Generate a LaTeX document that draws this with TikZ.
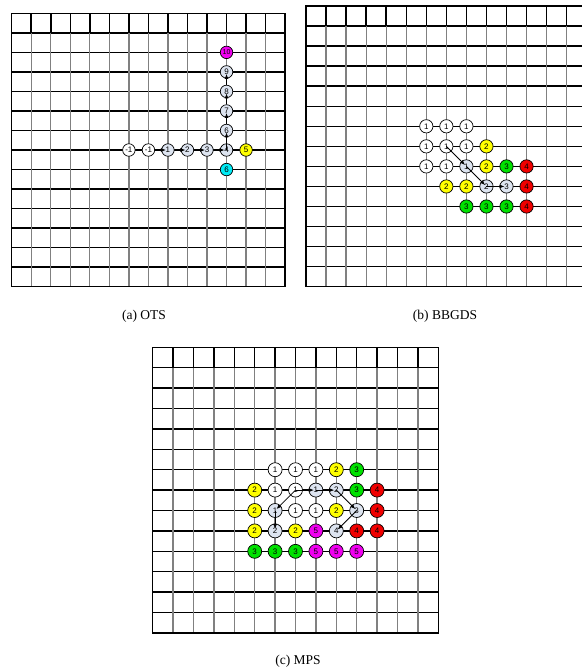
\documentclass[tikz,border=0pt]{standalone}
\usepackage{fontspec}
\setmainfont{Liberation Serif}
\setsansfont{Liberation Sans}
\usepackage{xcolor}
\usepackage{tikz}
\usetikzlibrary{arrows.meta}

\definecolor{visited}{RGB}{221,228,240}
\definecolor{ptyellow}{RGB}{255,255,0}
\definecolor{ptgreen}{RGB}{0,225,0}
\definecolor{ptred}{RGB}{240,0,0}
\definecolor{ptmagenta}{RGB}{240,0,240}
\definecolor{ptcyan}{RGB}{0,235,245}

\begin{document}
\begin{tikzpicture}[
    x=1pt, y=-1pt,
    >={Latex[length=5pt,width=4pt]},
    hline/.style={line width=1.5pt, black},
    vline/.style={line width=1.3pt, black!50},
    topline/.style={line width=1.5pt, black},
    dot/.style={circle, draw, line width=0.7pt, fill=white, inner sep=0pt, minimum size=12.5pt, font=\sffamily\fontsize{8}{9}\selectfont},
    seen/.style={dot, fill=visited},
    ydot/.style={dot, fill=ptyellow},
    gdot/.style={dot, fill=ptgreen},
    rdot/.style={dot, fill=ptred},
    mdot/.style={dot, fill=ptmagenta},
    cdot/.style={dot, fill=ptcyan},
    arr/.style={->, line width=0.8pt, shorten >=2pt},
    caption/.style={font=\fontsize{13.5}{15}\selectfont},
]
\useasboundingbox (0,0) rectangle (581,672);

% === (a) OTS ===
\begin{scope}[shift={(11.7,13.3)}, x=19.53pt, y=-19.53pt]
  \foreach \i in {0,...,14} \draw[hline] (0,\i) -- (14,\i);
  \foreach \i in {1,...,13} {
    \draw[vline] (\i,1) -- (\i,14);
    \draw[topline] (\i,0) -- (\i,1);
  }
  \draw[hline] (0,0) rectangle (14,14);

  \foreach \c/\r/\t in {6/7/-1, 7/7/-1}
    \node[dot] (a-\c-\r) at (\c,\r) {\t};
  \foreach \c/\r/\t in {8/7/1, 9/7/2, 10/7/3, 11/7/4, 11/6/6, 11/5/7, 11/4/8, 11/3/9}
    \node[seen] (a-\c-\r) at (\c,\r) {\t};
  \node[ydot] (a-12-7) at (12,7) {5};
  \node[cdot] (a-11-8) at (11,8) {6};
  \node[mdot, font=\sffamily\fontsize{7}{8}\selectfont] (a-11-2) at (11,2) {10};

  \draw[arr] (a-7-7) -- (a-8-7.center);
  \draw[arr] (a-8-7) -- (a-9-7.center);
  \draw[arr] (a-9-7) -- (a-10-7.center);
  \draw[arr] (a-10-7) -- (a-11-7.center);
  \draw[arr] (a-11-7.center) -- (a-11-6.center);
  \draw[arr] (a-11-6) -- (a-11-5.center);
  \draw[arr] (a-11-5) -- (a-11-4.center);
  \draw[arr] (a-11-4) -- (a-11-3.center);
\end{scope}
\node[caption] (capa) at (144,316) {(a) OTS};

% === (b) BBGDS ===
\begin{scope}[shift={(306,6)}, x=20.05pt, y=-20.05pt, dot/.append style={minimum size=13.3pt}]
  \foreach \i in {0,...,14} \draw[hline] (0,\i) -- (14,\i);
  \foreach \i in {1,...,13} {
    \draw[vline] (\i,1) -- (\i,14);
    \draw[topline] (\i,0) -- (\i,1);
  }
  \draw[hline] (0,0) rectangle (14,14);

  \foreach \c/\r in {6/6, 7/6, 8/6, 6/7, 7/7, 8/7, 6/8, 7/8}
    \node[dot] (b-\c-\r) at (\c,\r) {1};
  \foreach \c/\r/\t in {8/8/1, 9/9/2, 10/9/3}
    \node[seen] (b-\c-\r) at (\c,\r) {\t};
  \foreach \c/\r in {9/7, 9/8, 7/9, 8/9}
    \node[ydot] (b-\c-\r) at (\c,\r) {2};
  \foreach \c/\r in {10/8, 8/10, 9/10, 10/10}
    \node[gdot] (b-\c-\r) at (\c,\r) {3};
  \foreach \c/\r in {11/8, 11/9, 11/10}
    \node[rdot] (b-\c-\r) at (\c,\r) {4};

  \draw[arr] (b-7-7.center) -- (b-8-8.center);
  \draw[arr] (b-8-8.center) -- (b-9-9.center);
  \draw[arr] (b-9-9.center) -- (b-10-9.center);
\end{scope}
\node[caption] (capb) at (445,316) {(b) BBGDS};

% === (c) MPS ===
\begin{scope}[shift={(152.7,347.3)}, x=20.4pt, y=-20.4pt, dot/.append style={minimum size=14pt}]
  \foreach \i in {0,...,14} \draw[hline] (0,\i) -- (14,\i);
  \foreach \i in {1,...,13} {
    \draw[vline] (\i,1) -- (\i,14);
    \draw[topline] (\i,0) -- (\i,1);
  }
  \draw[hline] (0,0) rectangle (14,14);

  \foreach \c/\r in {6/6, 7/6, 8/6, 6/7, 7/7, 7/8, 8/8}
    \node[dot] (c-\c-\r) at (\c,\r) {1};
  \foreach \c/\r/\t in {8/7/1, 9/7/2, 10/8/3, 9/9/4, 6/8/1, 6/9/2}
    \node[seen] (c-\c-\r) at (\c,\r) {\t};
  \foreach \c/\r in {9/6, 5/7, 5/8, 9/8, 5/9, 7/9}
    \node[ydot] (c-\c-\r) at (\c,\r) {2};
  \foreach \c/\r in {10/6, 10/7, 5/10, 6/10, 7/10}
    \node[gdot] (c-\c-\r) at (\c,\r) {3};
  \foreach \c/\r in {11/7, 11/8, 10/9, 11/9}
    \node[rdot] (c-\c-\r) at (\c,\r) {4};
  \foreach \c/\r in {8/9, 8/10, 9/10, 10/10}
    \node[mdot] (c-\c-\r) at (\c,\r) {5};

  \draw[arr] (c-7-7.center) -- (c-8-7.center);
  \draw[arr] (c-8-7.center) -- (c-9-7.center);
  \draw[arr] (c-9-7.center) -- (c-10-8.center);
  \draw[arr] (c-10-8.center) -- (c-9-9.center);
  \draw[arr] (c-7-7.center) -- (c-6-8.center);
  \draw[arr] (c-6-8.center) -- (c-6-9.center);
\end{scope}
\node[caption] (capc) at (298,661) {(c) MPS};

\end{tikzpicture}
\end{document}
